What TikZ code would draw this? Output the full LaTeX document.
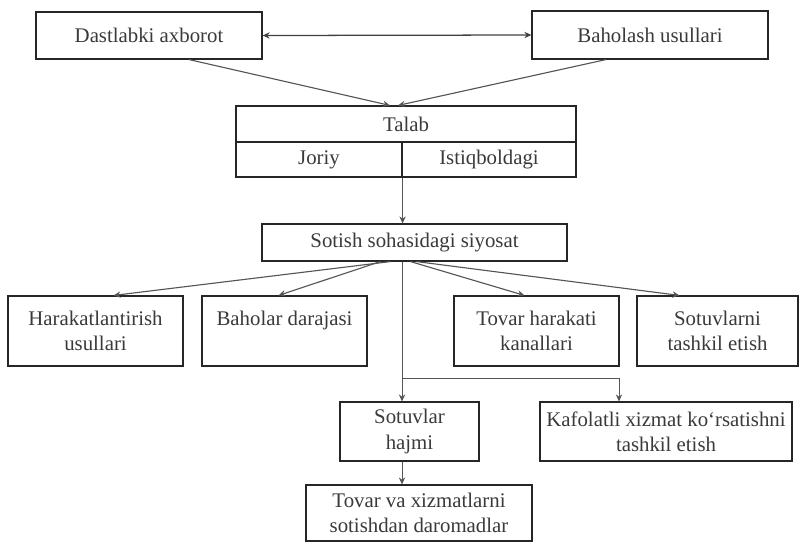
\documentclass[tikz,border=0pt]{standalone}
\usepackage{fontspec}
\setmainfont{Liberation Serif}
\usepackage{tikz}
\usetikzlibrary{arrows.meta, positioning, calc}
\definecolor{inkgray}{HTML}{3a3a3a}
\definecolor{linegray}{HTML}{555555}

\begin{document}
\begin{tikzpicture}[
    x=0.025cm, y=-0.025cm,
    every node/.style={font=\fontsize{14.8}{18}\selectfont, text=inkgray},
    box_main/.style={rectangle, draw=black!85, line width=0.8pt, fill=white, align=center, inner sep=2pt},
    box_cell/.style={box_main, minimum height=0.875cm},
    box_two/.style={box_main, minimum height=1.75cm},
    box_low/.style={box_main, minimum height=1.475cm},
    arrow/.style={-{Stealth[length=5pt, width=4.5pt]}, line width=0.8pt, draw=linegray},
    both_arrow/.style={{Stealth[length=5pt, width=4.5pt]}-{Stealth[length=5pt, width=4.5pt]}, line width=0.9pt, draw=black!75}
]
\useasboundingbox (0,0) rectangle (800,541);

% top row
\node[box_main, minimum width=5.65cm, minimum height=1.175cm] (axborot) at (149,35.5) {Dastlabki axborot};
\node[box_main, minimum width=5.9cm, minimum height=1.2cm] (usullar) at (650,35) {Baholash usullari};

% demand block
\node[box_main, minimum width=8.5cm, minimum height=0.9cm] (talab) at (406,124) {Talab};
\node[box_cell, minimum width=4.15cm] (joriy) at (319,159.5) {Joriy};
\node[box_cell, minimum width=4.35cm] (istiqbol) at (489,159.5) {Istiqboldagi};

\node[box_main, minimum width=7.625cm, minimum height=0.925cm] (siyosat) at (414.5,242.5) {Sotish sohasidagi siyosat};

% policy elements
\node[box_two, minimum width=4.375cm] (harakat) at (95.5,331) {Harakatlantirish\\ usullari};
\node[box_two, minimum width=4.125cm] (baholar) at (284.5,331) {Baholar darajasi\\ \mbox{}};
\node[box_two, minimum width=4.125cm] (kanal) at (536.5,331) {Tovar harakati\\ kanallari};
\node[box_two, minimum width=4.025cm] (tashkil) at (717.5,331) {Sotuvlarni\\ tashkil etish};

% results
\node[box_low, minimum width=3.475cm] (hajm) at (409.5,431.5) {Sotuvlar\\ hajmi};
\node[box_low, minimum width=6.3cm] (kafolat) at (666,431.5) {Kafolatli xizmat ko‘rsatishni\\ tashkil etish};
\node[box_main, minimum width=5.65cm, minimum height=1.4cm] (daromad) at (419,513) {Tovar va xizmatlarni\\ sotishdan daromadlar};

\coordinate (fork) at (402,378);

\draw[both_arrow] (axborot.east) -- (usullar.west);
\draw[arrow] ([xshift=1cm]axborot.south) -- ([xshift=-0.4cm]talab.north);
\draw[arrow] ([xshift=-1.1cm]usullar.south) -- ([xshift=-0.2cm]talab.north);

\draw[arrow, line width=0.6pt] (joriy.south east) -- (joriy.south east |- siyosat.north);

\draw[arrow] ([xshift=-0.6cm]siyosat.south) -- ([xshift=0.45cm]harakat.north);
\draw[arrow] ([xshift=-0.85cm]siyosat.south) -- ([xshift=-0.15cm]baholar.north);
\draw[arrow] ([xshift=-0.1cm]siyosat.south) -- ([xshift=-0.3cm]kanal.north);
\draw[arrow] ([xshift=0.05cm]siyosat.south) -- ([xshift=-0.95cm]tashkil.north);

\draw[arrow, line width=0.6pt] (siyosat.south -| fork) -- (hajm.north -| fork);
\draw[arrow, line width=0.6pt] (fork) -| ([xshift=-1.175cm]kafolat.north);
\draw[arrow, line width=0.6pt] (hajm.south -| fork) -- (daromad.north -| fork);

\end{tikzpicture}
\end{document}
